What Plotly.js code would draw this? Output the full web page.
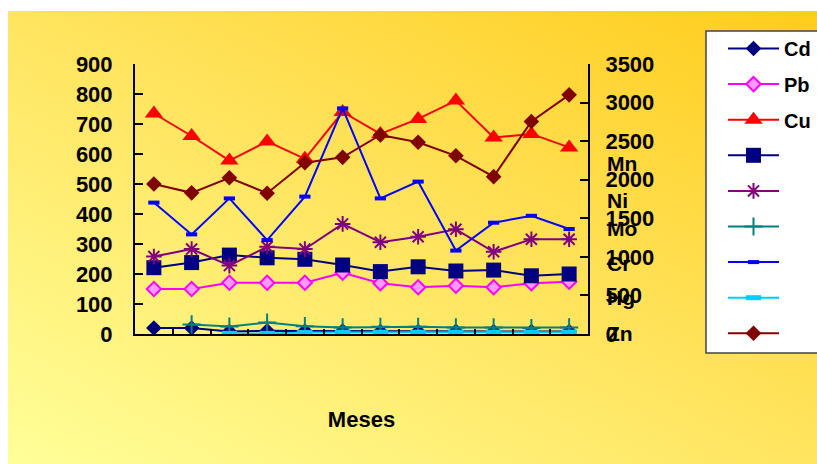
<!DOCTYPE html>
<html>
<head>
<meta charset="utf-8">
<script src="https://cdn.plot.ly/plotly-3.0.1.min.js"></script>
<style>
  html, body { margin: 0; padding: 0; background: #ffffff; }
  #wrap { position: relative; width: 817px; height: 464px; overflow: hidden; background: #ffffff; }
  #bg { position: absolute; left: 8px; top: 11px; width: 809px; height: 453px;
        background: linear-gradient(to top right, #FFFF99 0%, #FFE25A 55%, #FFCC1A 100%); }
  #chart { position: absolute; left: 0; top: 0; width: 817px; height: 464px; }
</style>
</head>
<body>
<div id="wrap"><div id="bg"></div><div id="chart"></div></div>
<script>
// ---- data ----
const months = ['Ene','Feb','Mar','Abr','May','Jun','Jul','Ago','Sep','Oct','Nov','Dic'];
const seriesNames = ['Cd','Pb','Cu','Mn','Ni','Mo','Cr','Hg','Zn'];
const legendLabels = ['Cd','Pb','Cu','','','','','',''];
const Cd = [20, 20, 8, 11, 10, 10, 8, 8, 9, 8, 8, 8];
const Pb = [150, 150, 171, 171, 171, 204, 169, 156, 161, 156, 169, 174];
const Cu = [735, 660, 578, 642, 584, 740, 667, 717, 778, 655, 667, 622];
const Mn = [221, 238, 263, 254, 249, 230, 208, 224, 210, 213, 194, 200];
const Ni = [258, 283, 228, 291, 283, 367, 306, 324, 349, 274, 316, 316];
const Mo = [null, 32, 25, 38, 26, 22, 24, 24, 22, 22, 20, 22];
const Cr = [438, 332, 452, 313, 458, 752, 452, 508, 278, 371, 394, 350];
const Hg = [null, null, 2, 2, 5, 6, 6, 6, 6, 6, 6, 6];
const Zn = [1945, 1830, 2025, 1825, 2220, 2290, 2580, 2485, 2310, 2040, 2755, 3100]; // right axis
const rightLabels = ['Mn','Ni','Mo','Cr','Hg','Zn'];

// ---- styles ----
const FONT = 'Arial, "Liberation Sans", sans-serif';
const styles = {
  Cd: {color:'#000080', marker:{symbol:'diamond', size:12, color:'#000080'}},
  Pb: {color:'#FF00FF', marker:{symbol:'diamond', size:11, color:'#FF99FF', line:{color:'#FF00FF', width:2}}},
  Cu: {color:'#FF0000', marker:{symbol:'triangle-up', size:16, color:'#FF0000'}},
  Mn: {color:'#000080', marker:{symbol:'square', size:15, color:'#000080'}},
  Ni: {color:'#800080', marker:{symbol:'asterisk-open', size:13, color:'#800080', line:{color:'#800080', width:2}}},
  Mo: {color:'#008080', marker:{symbol:'cross-thin-open', size:13, color:'#008080', line:{color:'#008080', width:2}}},
  Cr: {color:'#0000FF', marker:{symbol:'line-ew-open', size:8, color:'#0000FF', line:{color:'#0000FF', width:4}}},
  Hg: {color:'#00CCFF', marker:{symbol:'line-ew-open', size:11, color:'#00CCFF', line:{color:'#00CCFF', width:5}}},
  Zn: {color:'#800000', marker:{symbol:'diamond', size:12, color:'#800000'}}
};
const values = {Cd, Pb, Cu, Mn, Ni, Mo, Cr, Hg, Zn};

const traces = seriesNames.map((s, i) => ({
  type: 'scatter', mode: 'lines+markers',
  x: months, y: values[s],
  name: legendLabels[i],
  legendgroup: 'g' + i,
  yaxis: s === 'Zn' ? 'y2' : 'y',
  line: {color: styles[s].color, width: 2},
  marker: styles[s].marker,
  connectgaps: false,
  hovertemplate: s + ': %{y}<extra></extra>'
}));

// pixel helpers for the plot area (135..588 x, 64..334 y)
const L = 135, R = 588, T = 64, B = 334;
const px = x => (x - L) / (R - L);
const py = y => (B - y) / (B - T);

const annYs = [163, 200, 228, 263, 297, 333];
const annotations = rightLabels.map((t, i) => ({
  text: t, xref: 'paper', yref: 'paper', x: 1, xshift: 17, xanchor: 'left',
  y: py(annYs[i]), yanchor: 'middle', showarrow: false,
  font: {family: FONT, size: 21, color: '#000000', weight: 'bold'}
}));

const layout = {
  width: 817, height: 464,
  margin: {l: L, r: 817 - R, t: T, b: 464 - B, autoexpand: false},
  paper_bgcolor: 'rgba(0,0,0,0)', plot_bgcolor: 'rgba(0,0,0,0)',
  font: {family: FONT, size: 20, color: '#000000', weight: 'bold'},
  showlegend: true,
  legend: {
    x: px(723), y: py(29), xanchor: 'left', yanchor: 'top',
    bgcolor: 'rgba(0,0,0,0)', borderwidth: 0,
    itemwidth: 51, tracegroupgap: 6.6, traceorder: 'grouped', maxheight: 460,
    font: {family: FONT, size: 20, color: '#000000', weight: 'bold'}
  },
  xaxis: {
    type: 'category', range: [-0.5, 11.5],
    showticklabels: false, ticks: 'inside', ticklen: 5, tickwidth: 2, tickcolor: '#000',
    tickson: 'boundaries',
    showline: true, linecolor: '#000000', linewidth: 2, showgrid: false, zeroline: false,
    title: {text: 'Meses', standoff: 77, font: {family: FONT, size: 22, weight: 'bold'}}
  },
  yaxis: {
    range: [0, 900], dtick: 100, ticks: 'inside', ticklen: 8, tickwidth: 2, tickcolor: '#000',
    showline: true, linecolor: '#000000', linewidth: 2, showgrid: false, zeroline: false,
    ticklabelstandoff: 16,
    tickfont: {family: FONT, size: 22, weight: 'bold'}
  },
  yaxis2: {
    overlaying: 'y', side: 'right',
    range: [0, 3500], dtick: 500, ticks: 'inside', ticklen: 8, tickwidth: 2, tickcolor: '#000',
    showline: true, linecolor: '#000000', linewidth: 2, showgrid: false, zeroline: false,
    ticklabelstandoff: 11,
    tickfont: {family: FONT, size: 22, weight: 'bold'}
  },
  shapes: [{
    type: 'rect', xref: 'paper', yref: 'paper', layer: 'below',
    x0: px(706), x1: px(840), y0: py(353), y1: py(31),
    fillcolor: '#FFFFFF', line: {color: '#444444', width: 1.5}
  }],
  annotations: annotations
};

Plotly.newPlot('chart', traces, layout, {staticPlot: true, displayModeBar: false});
</script>
</body>
</html>
